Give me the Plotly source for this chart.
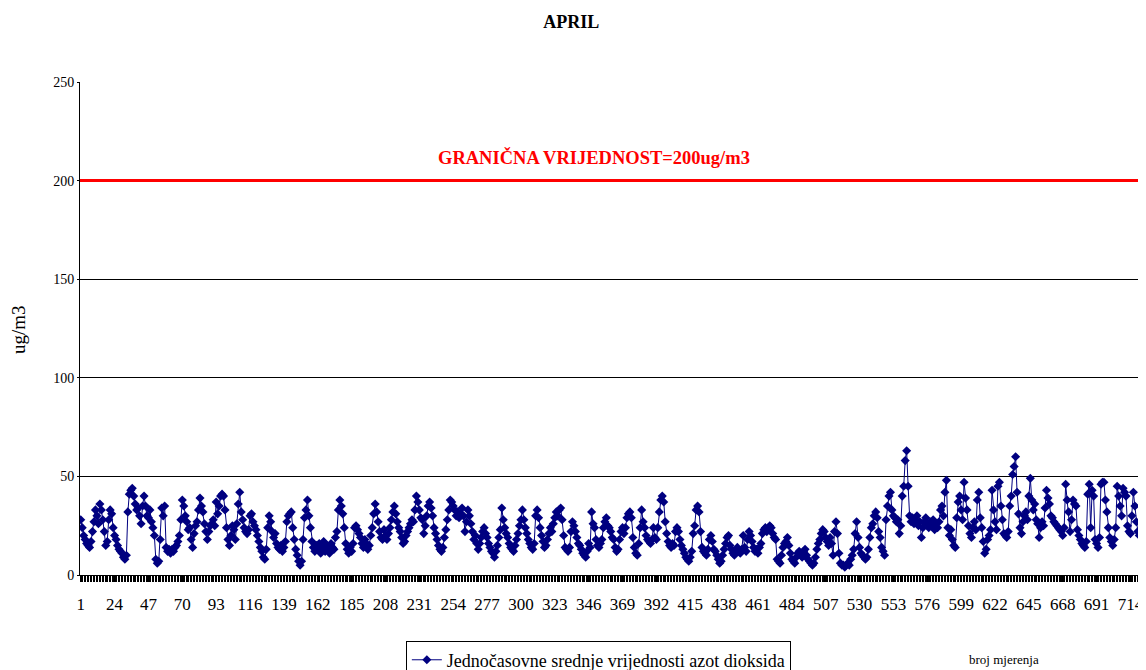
import plotly.graph_objects as go

title_text = "APRIL"
series_name = "Jednočasovne srednje vrijednosti azot dioksida"
limit_value = 200
limit_label = "GRANIČNA VRIJEDNOST=200ug/m3"
y_title = "ug/m3"
x_title = "broj mjerenja"

no2_values = [
    28, 24, 20, 18, 16, 15, 14, 17, 22, 27, 33, 30, 26, 36, 33, 28, 22, 15, 17, 28,
    33, 31, 24, 20, 18, 15, 13, 12, 11, 9, 8, 10, 32, 41, 43, 44, 40, 36, 33, 34,
    30, 26, 35, 40, 35, 30, 29, 33, 27, 24, 20, 8, 6, 7, 18, 34, 30, 35, 14, 12,
    13, 11, 13, 12, 14, 15, 17, 20, 28, 38, 35, 30, 27, 23, 24, 18, 14, 21, 25, 27,
    33, 39, 35, 32, 26, 22, 18, 22, 25, 26, 28, 25, 37, 31, 35, 40, 41, 40, 33, 24,
    18, 15, 20, 25, 23, 18, 26, 36, 42, 32, 28, 24, 22, 21, 23, 30, 31, 27, 25, 23,
    20, 17, 14, 12, 9, 8, 13, 24, 30, 27, 22, 19, 21, 16, 14, 13, 15, 12, 14, 17,
    27, 30, 31, 32, 24, 18, 13, 10, 7, 5, 7, 18, 29, 33, 38, 30, 24, 17, 14, 12,
    15, 13, 16, 11, 14, 17, 12, 15, 13, 11, 16, 14, 13, 19, 22, 33, 38, 35, 31, 24,
    16, 13, 11, 14, 12, 16, 24, 25, 23, 21, 19, 16, 14, 18, 16, 13, 15, 20, 24, 31,
    36, 32, 27, 22, 19, 18, 23, 20, 18, 21, 24, 28, 32, 35, 31, 27, 24, 22, 19, 16,
    17, 20, 22, 24, 26, 28, 27, 33, 40, 37, 33, 29, 28, 21, 25, 30, 35, 37, 34, 30,
    24, 21, 18, 15, 13, 12, 14, 19, 23, 28, 33, 38, 37, 35, 33, 30, 32, 29, 31, 34,
    30, 22, 27, 33, 30, 26, 22, 18, 20, 16, 13, 16, 19, 22, 24, 21, 19, 16, 14, 12,
    11, 9, 12, 15, 19, 23, 34, 28, 24, 21, 19, 16, 14, 13, 12, 15, 18, 21, 25, 28,
    33, 28, 24, 21, 18, 16, 14, 13, 16, 30, 33, 29, 24, 20, 17, 14, 15, 18, 21, 24,
    22, 26, 29, 32, 30, 33, 34, 28, 20, 14, 13, 12, 14, 22, 27, 25, 22, 19, 16, 15,
    13, 11, 10, 9, 12, 16, 14, 32, 26, 24, 18, 15, 14, 16, 18, 24, 27, 29, 25, 24,
    22, 19, 18, 14, 12, 13, 18, 22, 24, 21, 24, 29, 31, 32, 29, 19, 14, 11, 10, 16,
    24, 33, 27, 24, 20, 18, 17, 16, 18, 24, 19, 18, 24, 32, 38, 40, 37, 27, 21, 17,
    15, 14, 16, 15, 22, 24, 22, 18, 15, 13, 11, 9, 8, 7, 9, 12, 21, 25, 33, 35,
    32, 22, 14, 12, 11, 10, 13, 18, 20, 17, 13, 12, 10, 8, 6, 7, 10, 13, 16, 19,
    20, 15, 13, 11, 10, 12, 14, 12, 11, 13, 20, 14, 12, 18, 22, 20, 17, 14, 12, 13,
    11, 14, 16, 21, 23, 24, 22, 23, 25, 24, 21, 19, 18, 8, 7, 6, 10, 14, 16, 17,
    19, 15, 11, 8, 7, 6, 9, 11, 12, 10, 9, 12, 13, 10, 8, 7, 6, 5, 6, 9,
    13, 16, 18, 21, 23, 22, 19, 17, 15, 19, 16, 10, 22, 27, 21, 11, 6, 5, 5, 4,
    5, 6, 5, 8, 10, 13, 21, 27, 19, 14, 11, 10, 9, 8, 9, 13, 19, 24, 26, 30,
    32, 29, 22, 19, 14, 12, 10, 28, 35, 40, 42, 33, 30, 29, 27, 28, 21, 25, 40, 45,
    58, 63, 45, 30, 27, 29, 26, 28, 30, 25, 27, 19, 24, 27, 29, 26, 24, 27, 25, 28,
    23, 26, 24, 27, 33, 35, 30, 42, 48, 24, 20, 23, 18, 15, 14, 29, 37, 40, 33, 28,
    47, 39, 33, 25, 21, 19, 24, 27, 23, 38, 42, 29, 24, 17, 11, 13, 18, 20, 23, 43,
    33, 27, 23, 45, 47, 35, 28, 21, 20, 19, 22, 35, 40, 51, 55, 60, 42, 31, 24, 21,
    27, 30, 32, 28, 40, 49, 38, 33, 36, 28, 26, 19, 24, 27, 25, 34, 43, 39, 36, 30,
    29, 27, 26, 25, 24, 23, 22, 20, 24, 46, 38, 32, 22, 28, 38, 36, 35, 23, 20, 18,
    16, 15, 14, 17, 41, 46, 24, 43, 40, 18, 16, 14, 19, 46, 47, 47, 38, 32, 24, 19,
    17, 15, 18, 24, 45, 40, 35, 30, 44, 42, 40, 25, 22, 21, 30, 42, 35, 27, 22, 20,
]
measurement_no = list(range(1, len(no2_values) + 1))
x_tick_labels = list(range(1, 720, 23))
y_tick_values = [0, 50, 100, 150, 200, 250]

navy = "#000080"
serif = "Liberation Serif, Times New Roman, serif"

fig = go.Figure()
fig.add_trace(go.Scatter(
    x=measurement_no, y=no2_values, mode="lines+markers", name=series_name,
    line=dict(color=navy, width=1),
    marker=dict(symbol="diamond", size=7, color=navy),
))

fig.update_layout(
    width=1138, height=662,
    paper_bgcolor="white", plot_bgcolor="white",
    margin=dict(l=72, r=6, t=74, b=95, autoexpand=False),
    font=dict(family=serif, size=13, color="black"),
    title=dict(text="<b>" + title_text + "</b>", x=0.495, xanchor="center",
               y=0.979, yanchor="middle", font=dict(size=18, family=serif)),
    showlegend=True,
    legend=dict(orientation="h", x=0.489, xanchor="center", y=-0.133, yanchor="top",
                bordercolor="black", borderwidth=1, font=dict(size=18, family=serif),
                itemwidth=30),
    xaxis=dict(
        range=[0.5, 720.5], tickmode="array", tickvals=x_tick_labels,
        ticktext=[str(v) for v in x_tick_labels], showgrid=False, zeroline=False,
        showline=True, linecolor="black", linewidth=1, automargin=False,
        ticks="outside", ticklen=6, tickcolor="black", ticklabelstandoff=8,
        minor=dict(ticks="outside", tick0=0.5, dtick=1, ticklen=6, tickcolor="black", showgrid=False),
        tickfont=dict(size=17, family=serif),
    ),
    yaxis=dict(
        range=[0, 250], tickmode="array", tickvals=y_tick_values,
        showgrid=True, gridcolor="black", gridwidth=1, zeroline=False,
        showline=True, linecolor="black", linewidth=1, automargin=False,
        ticks="outside", ticklen=2, tickcolor="black",
        tickfont=dict(size=14, family=serif),
    ),
    shapes=[
        dict(type="line", xref="paper", yref="y", x0=0, x1=1.006, y0=limit_value, y1=limit_value,
             line=dict(color="#FF0000", width=3)),
        dict(type="line", xref="paper", yref="paper", x0=1, x1=1, y0=0, y1=1,
             line=dict(color="#808080", width=1)),
    ],
    annotations=[
        dict(text="<b>" + limit_label + "</b>", xref="paper", yref="y", x=0.485, y=211.5,
             xanchor="center", yanchor="middle", showarrow=False,
             font=dict(color="#FF0000", size=18.5, family=serif)),
        dict(text=y_title, xref="paper", yref="paper", x=-0.0575, y=0.497, textangle=-90,
             xanchor="center", yanchor="middle", showarrow=False,
             font=dict(size=19, family=serif)),
        dict(text=x_title, xref="paper", yref="paper", x=0.872, y=-0.172,
             xanchor="center", yanchor="middle", showarrow=False,
             font=dict(size=13, family=serif)),
    ],
)

fig.write_html("out.html")
